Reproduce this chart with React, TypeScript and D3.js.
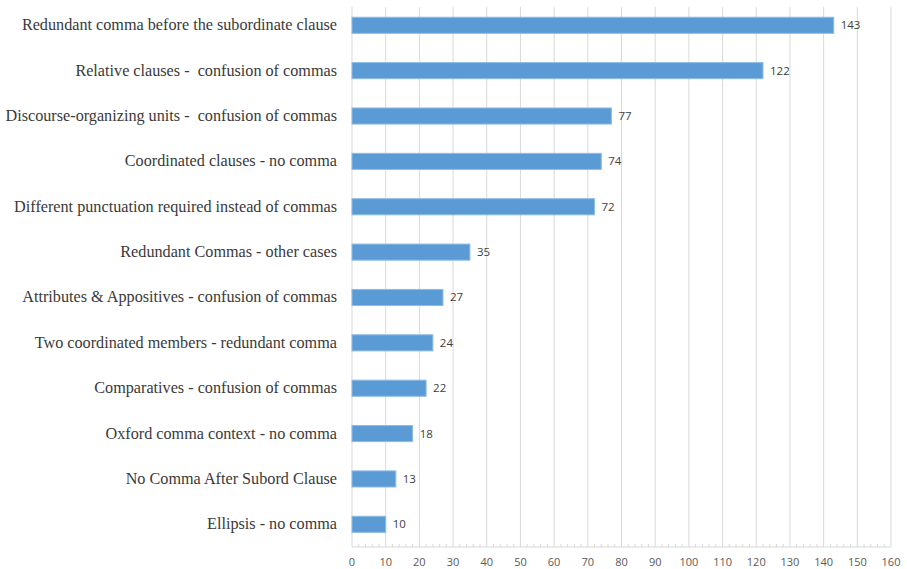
import React from "react";
import * as d3 from "d3";

const categories = [
  "Redundant comma before the subordinate clause",
  "Relative clauses -  confusion of commas",
  "Discourse-organizing units -  confusion of commas",
  "Coordinated clauses - no comma",
  "Different punctuation required instead of commas",
  "Redundant Commas - other cases",
  "Attributes & Appositives - confusion of commas",
  "Two coordinated members - redundant comma",
  "Comparatives - confusion of commas",
  "Oxford comma context - no comma",
  "No Comma After Subord Clause",
  "Ellipsis - no comma",
];
const values = [143, 122, 77, 74, 72, 35, 27, 24, 22, 18, 13, 10];
const xTicks = [0, 10, 20, 30, 40, 50, 60, 70, 80, 90, 100, 110, 120, 130, 140, 150, 160];

export default function App() {
  const W = 907, H = 569;
  const x0 = 352, x1 = 891;
  const yTop = 2.6, yBot = 547;
  const x = d3.scaleLinear().domain([0, 160]).range([x0, x1]);
  const y = d3.scaleBand<string>().domain(categories).range([yTop, yBot]).paddingInner(0.645).paddingOuter(0.3225);
  const minor = d3.range(0, 161, 2).filter((v) => v % 10 !== 0);
  return (
    <svg width={W} height={H} style={{ position: "absolute", left: 0, top: 0, background: "#fff" }}>
      {xTicks.map((t) => (
        <line key={"g" + t} x1={x(t)} x2={x(t)} y1={7} y2={yBot} stroke="#d9d9d9" strokeWidth={1} />
      ))}
      <line x1={x0} x2={x1} y1={yBot} y2={yBot} stroke="#d9d9d9" strokeWidth={1} />
      {minor.map((t) => (
        <line key={"m" + t} x1={x(t)} x2={x(t)} y1={yBot - 3} y2={yBot} stroke="#d9d9d9" strokeWidth={1} />
      ))}
      {xTicks.map((t) => (
        <text key={"t" + t} x={x(t)} y={566} textAnchor="middle" fontFamily="Open Sans, Liberation Sans, sans-serif" fontSize={11} fill="#595959">
          {t}
        </text>
      ))}
      {categories.map((c, i) => {
        const by = y(c)!;
        const bh = y.bandwidth();
        return (
          <g key={c}>
            <rect x={x(0)} y={by} width={x(values[i]) - x(0)} height={bh} fill="#5b9bd5" stroke="#8fbbe3" strokeWidth={1} />
            <text x={x(values[i]) + 7} y={by + bh / 2 + 4} fontFamily="Open Sans, Liberation Sans, sans-serif" fontSize={11.5} fill="#404040">
              {values[i]}
            </text>
            <text x={337} y={by + bh / 2 + 5} textAnchor="end" fontFamily="Liberation Serif, Times New Roman, serif" fontSize={16.2} fill="#3a3a3a" style={{ whiteSpace: "pre" }}>
              {c}
            </text>
          </g>
        );
      })}
    </svg>
  );
}
